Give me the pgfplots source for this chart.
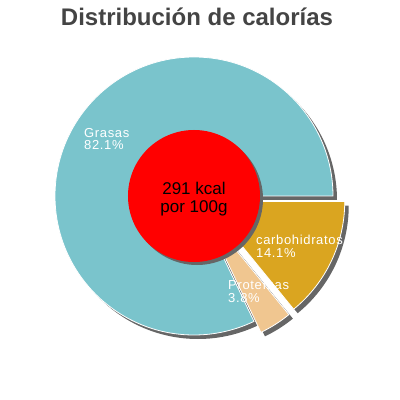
\documentclass[border=0pt]{standalone}
\usepackage{pgfplots}
\pgfplotsset{compat=1.18}
\usepackage{fontspec}
\setmainfont{Liberation Sans}

\definecolor{grasas}{HTML}{7AC4CC}
\definecolor{carbo}{HTML}{DAA520}
\definecolor{prot}{HTML}{F0C690}
\definecolor{shadowgray}{HTML}{666666}
\definecolor{titlegray}{HTML}{444444}

% calorie shares (%)
\def\vGrasas{82.1}
\def\vProt{3.8}
\def\vCarbo{14.1}

\begin{document}
\begin{tikzpicture}[
    slicelabel/.style={anchor=north west, align=left, inner sep=0pt, text=white,
      font=\fontsize{13bp}{12.5bp}\selectfont\addfontfeature{LetterSpace=5}},
  ]
  % pie geometry in pixel units (y up)
  \def\cx{194}\def\cy{204}\def\R{139}\def\r{66}\def\ex{13}
  \pgfmathsetmacro\aG{3.6*\vGrasas}
  \pgfmathsetmacro\aP{\aG+3.6*\vProt}
  \pgfmathsetmacro\aC{\aP+3.6*\vCarbo}
  \pgfmathsetmacro\mP{(\aG+\aP)/2}
  \pgfmathsetmacro\mC{(\aP+\aC)/2}
  \pgfmathsetmacro\pX{\cx+\ex*cos(\mP)}
  \pgfmathsetmacro\pY{\cy+\ex*sin(\mP)}
  \pgfmathsetmacro\qX{\cx+\ex*cos(\mC)}
  \pgfmathsetmacro\qY{\cy+\ex*sin(\mC)}

  \begin{axis}[
    x=1bp, y=1bp,
    xmin=0, xmax=400, ymin=0, ymax=400,
    hide axis, clip=false,
  ]
    % full canvas
    \path (axis cs:0,0) rectangle (axis cs:400,400);

    % shadows
    \fill[shadowgray] ([shift={(4bp,-4bp)}]axis cs:\cx,\cy) -- ++(0:\R bp)
      arc[start angle=0, end angle=\aG, radius=\R bp] -- cycle;
    \fill[shadowgray] ([shift={(4bp,-4bp)}]axis cs:\pX,\pY) -- ++(\aG:\R bp)
      arc[start angle=\aG, end angle=\aP, radius=\R bp] -- cycle;
    \fill[shadowgray] ([shift={(4bp,-4bp)}]axis cs:\qX,\qY) -- ++(\aP:\R bp)
      arc[start angle=\aP, end angle=\aC, radius=\R bp] -- cycle;

    % slices
    \filldraw[fill=grasas, draw=white, line width=0.8bp] (axis cs:\cx,\cy) -- ++(0:\R bp)
      arc[start angle=0, end angle=\aG, radius=\R bp] -- cycle;
    \filldraw[fill=prot, draw=white, line width=0.8bp] (axis cs:\pX,\pY) -- ++(\aG:\R bp)
      arc[start angle=\aG, end angle=\aP, radius=\R bp] -- cycle;
    \filldraw[fill=carbo, draw=white, line width=0.8bp] (axis cs:\qX,\qY) -- ++(\aP:\R bp)
      arc[start angle=\aP, end angle=\aC, radius=\R bp] -- cycle;

    % centre disc
    \fill[shadowgray] ([shift={(3bp,-3bp)}]axis cs:\cx,\cy) circle[radius=\r bp];
    \fill[red] (axis cs:\cx,\cy) circle[radius=\r bp];

    % labels
    \node[align=center, font=\fontsize{17bp}{18bp}\selectfont, text=black]
      at (axis cs:\cx,201) {291 kcal\\por 100g};
    \node[slicelabel] at (axis cs:84,272) {Grasas\\82.1\%};
    \node[slicelabel] at (axis cs:256,165) {carbohidratos\\14.1\%};
    \node[slicelabel] at (axis cs:228,120) {Proteínas\\3.8\%};

    \node[font=\bfseries\fontsize{24bp}{26bp}\selectfont, text=titlegray]
      at (axis cs:197,383) {Distribución de calorías};
  \end{axis}
\end{tikzpicture}
\end{document}
